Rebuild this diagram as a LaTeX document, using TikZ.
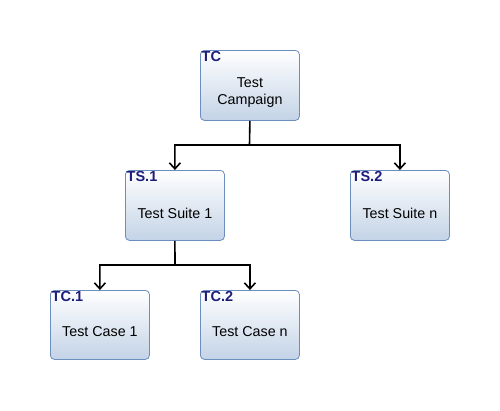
\documentclass[tikz,border=0pt]{standalone}
\usepackage{fontspec}
\setmainfont{Liberation Sans}
\usetikzlibrary{arrows.meta,positioning}
\definecolor{boxborder}{HTML}{6C8EBF}
\definecolor{boxbottom}{HTML}{C3D3E6}
\definecolor{tagcol}{HTML}{1E1E7A}
\tikzset{
  box/.style={draw=boxborder, line width=0.8pt, rounded corners=4pt, top color=white, bottom color=boxbottom,
    minimum width=99pt, minimum height=70pt, inner sep=0pt, anchor=north west},
  boxtext/.style={align=center, inner sep=0pt, font=\fontsize{14.3}{16.5}\selectfont},
  tag/.style={anchor=north west, inner sep=0pt, text=tagcol, font=\bfseries\fontsize{14.5}{14.5}\selectfont},
  conn/.style={line width=1.6pt, -{Straight Barb[length=6pt,width=11pt,line width=1.6pt]}},
}
\begin{document}
\begin{tikzpicture}[x=1pt,y=-1pt]
\useasboundingbox (0,0) rectangle (500,410);
\node[box] (tc) at (200,50) {};
\node[box] (ts1) at (125,170) {};
\node[box] (ts2) at (350,170) {};
\node[box, minimum height=69pt] (tc1) at (50,290) {};
\node[box, minimum height=69pt] (tc2) at (200,290) {};
\node[boxtext] (tct) at ([yshift=-7pt]tc.center) {Test\\Campaign};
\node[boxtext] (ts1t) at ([yshift=-8pt]ts1.center) {Test Suite 1};
\node[boxtext] (ts2t) at ([yshift=-8pt]ts2.center) {Test Suite n};
\node[boxtext] (tc1t) at ([yshift=-7pt]tc1.center) {Test Case 1};
\node[boxtext] (tc2t) at ([yshift=-7pt]tc2.center) {Test Case n};
\node[tag] (tag0) at ([xshift=1.5pt,yshift=-1pt]tc.north west) {TC};
\node[tag] (tag1) at ([xshift=1.5pt,yshift=-1pt]ts1.north west) {TS.1};
\node[tag] (tag2) at ([xshift=1.5pt,yshift=-1pt]ts2.north west) {TS.2};
\node[tag] (tag3) at ([xshift=1.5pt,yshift=-1pt]tc1.north west) {TC.1};
\node[tag] (tag4) at ([xshift=1.5pt,yshift=-1pt]tc2.north west) {TC.2};
\coordinate (j1) at (249.5,145);
\coordinate (j2) at (175,265);
\draw[conn] (tc.south) -- (j1) -| (ts1.north);
\draw[conn] (j1) -| (ts2.north);
\draw[conn] (ts1.south) -- (j2) -| (tc1.north);
\draw[conn] (j2) -| (tc2.north);
\end{tikzpicture}
\end{document}
